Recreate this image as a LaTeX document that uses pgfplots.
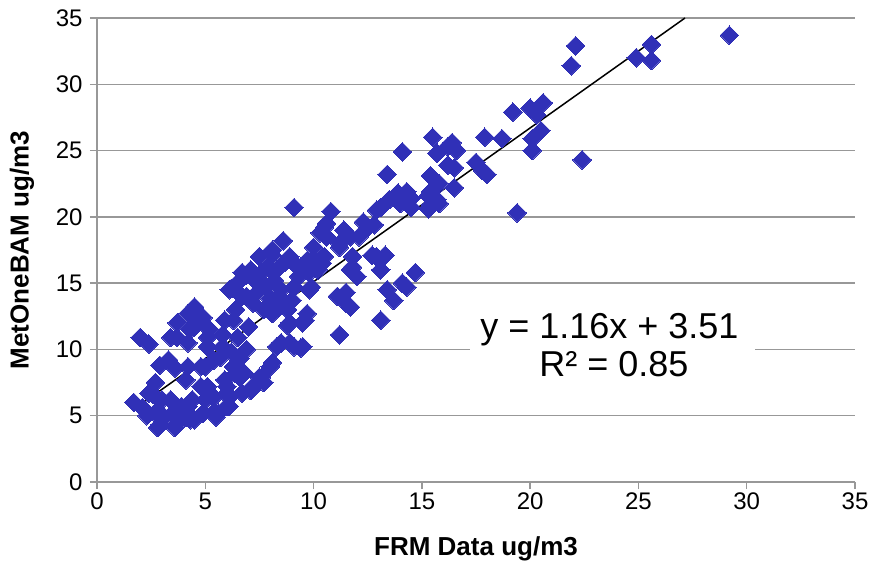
\documentclass[border=0pt]{standalone}
\usepackage{pgfplots}
\pgfplotsset{compat=1.18}
\usepackage{pgfplotstable}
\usepackage{fontspec}
\setmainfont{Liberation Sans}
\definecolor{mk}{RGB}{48,48,183}
\definecolor{gr}{RGB}{152,152,152}
\pgfplotstableread{
x y
29.2 33.7
22.1 32.9
21.9 31.4
24.9 32.0
25.6 33.0
25.6 31.8
22.4 24.3
19.4 20.3
19.2 27.9
20.0 28.2
20.6 28.6
20.3 27.7
20.5 26.5
20.1 25.9
20.1 25.0
17.9 26.0
18.7 25.9
17.5 24.1
18.0 23.2
17.8 23.5
16.5 22.2
15.8 21.0
15.5 26.0
16.2 25.3
16.4 25.6
15.7 24.8
16.6 25.0
16.2 23.9
16.5 23.7
15.4 23.1
15.8 22.5
15.3 21.6
15.4 21.9
15.7 21.3
15.4 20.9
15.3 20.6
14.1 24.9
13.4 23.2
13.9 21.8
14.3 21.9
13.5 21.3
14.0 21.0
13.1 20.7
14.5 20.7
14.5 21.4
12.9 20.5
10.8 20.4
10.6 19.5
10.3 18.8
11.4 19.0
11.7 18.5
12.1 18.5
12.5 19.2
12.3 19.6
12.8 19.4
11.2 17.7
10.0 17.7
9.7 16.7
9.4 16.2
12.9 17.0
13.3 17.1
12.7 17.1
13.1 16.0
11.8 16.2
12.0 15.5
11.5 14.3
11.7 13.2
11.1 14.0
13.4 14.5
13.7 13.7
14.3 14.7
14.1 15.0
14.7 15.8
13.1 12.2
11.2 11.1
9.8 14.5
9.6 12.2
9.5 10.2
10.6 18.5
11.2 18.0
11.7 16.0
11.5 13.5
10.2 16.0
10.4 16.5
11.8 17.0
10.5 17.0
10.5 19.2
9.1 20.7
8.6 18.2
8.1 17.1
9.1 16.5
9.9 14.7
8.8 11.8
9.5 12.0
8.5 10.5
9.1 10.2
8.9 10.5
9.4 10.1
8.3 10.2
8.0 8.7
7.5 7.9
7.1 6.9
7.7 7.5
6.9 10.0
6.8 8.2
8.1 17.5
7.5 17.0
7.1 16.0
8.9 17.0
9.0 13.7
8.4 13.2
8.1 12.7
8.9 12.0
7.7 13.0
6.9 14.0
6.6 15.2
8.8 13.0
9.7 12.7
9.5 16.2
10.1 16.5
8.2 15.2
8.5 14.5
9.1 14.7
7.3 15.2
7.6 15.8
7.9 16.2
7.0 11.7
6.5 10.9
5.8 10.2
5.4 9.2
7.4 14.3
7.8 14.8
8.0 13.8
7.2 13.5
8.3 16.0
8.7 16.6
9.3 15.5
9.8 15.8
10.0 16.8
8.4 14.0
6.2 9.8
6.6 9.3
2.0 10.9
2.4 10.4
1.7 6.0
2.8 4.1
3.7 12.0
4.5 13.2
3.4 10.9
6.2 14.6
6.9 15.6
3.3 9.2
3.6 8.6
2.7 7.5
2.4 6.7
3.0 6.2
3.5 5.2
4.1 4.9
3.6 4.1
5.4 5.3
6.0 5.7
6.4 8.2
7.2 7.2
7.6 7.9
8.1 9.0
4.8 7.2
4.4 6.2
5.0 8.7
5.1 10.2
4.5 11.7
4.2 12.7
5.9 12.2
6.4 13.0
6.7 14.0
4.1 7.7
5.9 7.7
6.7 6.7
6.0 6.7
5.0 6.2
3.9 5.7
5.6 5.2
4.5 4.7
3.0 4.7
3.7 10.9
4.2 10.5
5.1 10.9
2.9 8.8
4.2 8.7
4.8 8.7
5.7 9.4
6.3 8.7
6.6 7.9
6.0 7.2
5.1 7.2
2.6 6.6
2.1 5.6
3.4 6.2
4.2 5.7
4.9 5.2
5.5 4.9
6.1 5.7
2.9 4.3
3.7 4.4
4.3 4.7
5.4 6.4
6.1 6.4
6.7 15.8
6.1 14.5
4.9 12.4
5.2 11.5
6.3 12.2
5.8 11.1
4.3 11.5
4.8 12.2
2.3 5.0
2.8 5.4
}\datatable
\begin{document}
\begin{tikzpicture}
\useasboundingbox (-97pt,-81pt) rectangle (780pt,482pt);
\begin{axis}[
  scale only axis, width=758pt, height=464pt,
  xmin=0, xmax=35, ymin=0, ymax=35,
  xtick={0,5,...,35}, ytick={0,5,...,35},
  axis x line*=bottom, axis y line*=left,
  axis line style={gr, line width=1.5pt},
  tick style={gr, line width=1.5pt},
  tick align=outside, major tick length=7pt,
  ymajorgrids, grid style={gr, line width=1.5pt},
  /pgf/number format/assume math mode=true,
  tick label style={font=\fontsize{24}{24}\selectfont},
  yticklabel style={xshift=-4pt},
  xlabel={FRM Data ug/m3}, ylabel={MetOneBAM ug/m3},
  label style={font=\bfseries\fontsize{26}{26}\selectfont},
  xlabel style={at={(axis description cs:0.5,-0.144)}, anchor=center},
  ylabel style={at={(axis description cs:-0.099,0.5)}, anchor=center},
  clip=false,
]
\addplot[only marks, mark=square*, mark size=6.6pt, mark options={rotate=45, fill=mk, draw=mk, line width=0pt}] table[x=x, y=y] {\datatable};
\addplot[black, line width=1.5pt] coordinates {(1.7,5.48) (27.15,35.0)};
\fill[white] (axis cs:17.2,13.7) rectangle (axis cs:30.4,7.0);
\node[anchor=base, font=\fontsize{36}{36}\selectfont, inner sep=0pt] at (axis cs:23.66,10.86) {y = 1.16x + 3.51};
\node[anchor=base, font=\fontsize{36}{36}\selectfont, inner sep=0pt] at (axis cs:23.87,7.99) {R² = 0.85};
\end{axis}
\end{tikzpicture}
\end{document}
